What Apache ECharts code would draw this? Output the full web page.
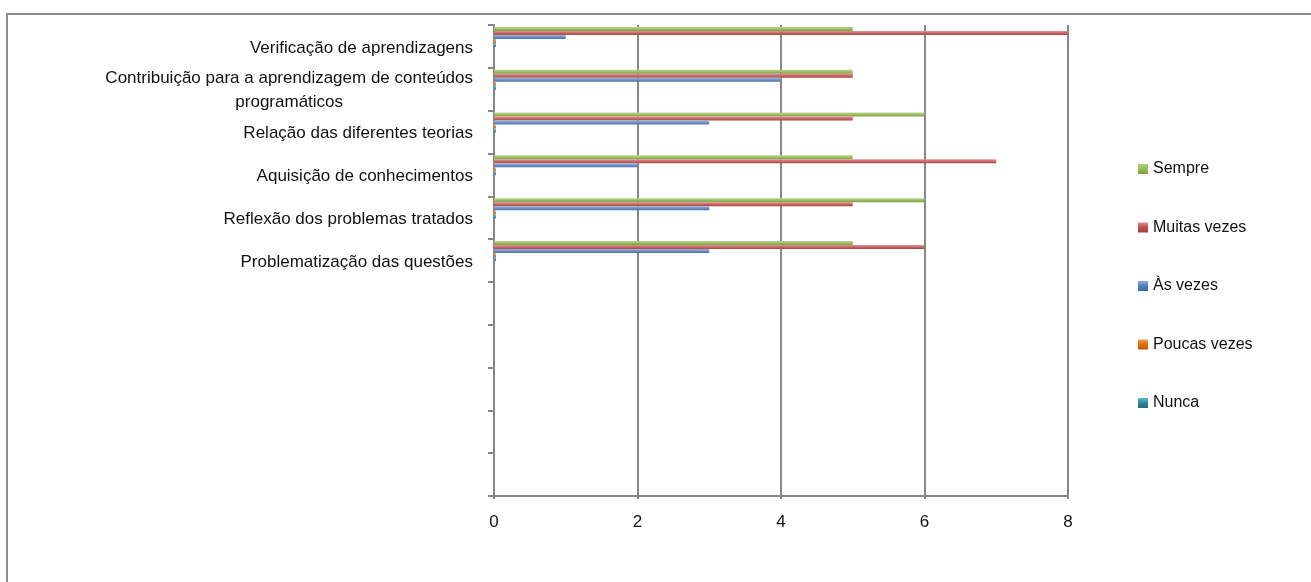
<!DOCTYPE html>
<html>
<head>
<meta charset="utf-8">
<script src="https://cdn.jsdelivr.net/npm/echarts@6/dist/echarts.min.js"></script>
<style>
  html, body { margin: 0; padding: 0; background: #ffffff; }
  #chart { width: 1311px; height: 582px; }
</style>
</head>
<body>
<div id="chart"></div>
<script>
// Categories, top to bottom; the trailing blanks are unused slots on the axis.
const categories = [
  'Verificação de aprendizagens',
  'Contribuição para a aprendizagem de conteúdos programáticos',
  'Relação das diferentes teorias',
  'Aquisição de conhecimentos',
  'Reflexão dos problemas tratados',
  'Problematização das questões',
  '', '', '', '', ''
];

// Answer counts per category
const sempre      = [5, 5, 6, 5, 6, 5];
const muitasVezes = [8, 5, 5, 7, 5, 6];
const asVezes     = [1, 4, 3, 2, 3, 3];
const poucasVezes = [0, 0, 0, 0, 0, 0];
const nunca       = [0, 0, 0, 0, 0, 0];

const seriesNames = ['Sempre', 'Muitas vezes', 'Às vezes', 'Poucas vezes', 'Nunca'];
const xTicks = [0, 2, 4, 6, 8];

const FONT = '"Liberation Sans Narrow", "Liberation Sans", Arial, sans-serif';
const GRID_GREY = '#868686';
const TEXT = '#111111';

function grad(c1, c2, c3) {
  return new echarts.graphic.LinearGradient(0, 0, 0, 1, [
    { offset: 0, color: c1 },
    { offset: 0.5, color: c2 },
    { offset: 1, color: c3 }
  ]);
}

const palette = [
  grad('#bcd290', '#9fbd62', '#7e9c45'),   // Sempre
  grad('#dc9896', '#c86865', '#aa4542'),   // Muitas vezes
  grad('#9fb8dc', '#6f91c7', '#4a71a8'),   // Às vezes
  grad('#f8b27a', '#ee8a3a', '#d0690f'),   // Poucas vezes
  grad('#7ccadd', '#45a6bf', '#2a8198')    // Nunca
];
const legendColors = [
  grad('#b3cb86', '#9bbb59', '#7f9e40'),
  grad('#d88b89', '#c0504d', '#a03c39'),
  grad('#8fabd6', '#4f81bd', '#3d6aa0'),
  grad('#f59c55', '#e46c0a', '#c05a08'),
  grad('#5dbad2', '#31859c', '#256a7d')
];

// Wrap long category names into lines of at most maxChars characters
function wrapLabel(text, maxChars) {
  const words = text.split(' ');
  const lines = [];
  let cur = '';
  words.forEach(w => {
    const next = cur ? cur + ' ' + w : w;
    if (next.length > maxChars && cur) { lines.push(cur); cur = w; }
    else cur = next;
  });
  if (cur) lines.push(cur);
  return lines;
}

const values = [sempre, muitasVezes, asVezes, poucasVezes, nunca];

const series = seriesNames.map((name, i) => ({
  name: name,
  type: 'bar',
  data: values[i],
  barWidth: 4,
  barGap: '0%',
  barMinHeight: i >= 3 ? 2 : 0,
  itemStyle: { color: palette[i] },
  emphasis: { disabled: true },
  z: 3
}));

// Empty slot that keeps each bar group in the upper part of its band
series.push({
  name: 'reserva',
  type: 'bar',
  data: [],
  barWidth: 19,
  barGap: '0%',
  silent: true
});

const chart = echarts.init(document.getElementById('chart'), null, { renderer: 'canvas' });

chart.setOption({
  animation: false,
  backgroundColor: '#ffffff',
  graphic: [{
    type: 'rect',
    shape: { x: 7, y: 14, width: 1400, height: 700 },
    style: { fill: 'none', stroke: '#8c8c8c', lineWidth: 2 },
    silent: true,
    z: -1
  }],
  grid: { left: 494, right: 243, top: 25, bottom: 86, containLabel: false },
  legend: {
    orient: 'vertical',
    left: 1138,
    top: 159,
    padding: 0,
    itemWidth: 10,
    itemHeight: 10,
    itemGap: 38.5,
    icon: 'rect',
    data: seriesNames.map((n, i) => ({ name: n, itemStyle: { color: legendColors[i] } })),
    textStyle: { fontFamily: FONT, fontSize: 16, color: TEXT, lineHeight: 20 },
    selectedMode: false
  },
  xAxis: {
    type: 'value',
    min: 0,
    max: 8,
    interval: 2,
    axisLine: { show: true, lineStyle: { color: GRID_GREY, width: 2 } },
    axisTick: { show: true, length: 3, lineStyle: { color: GRID_GREY, width: 2 } },
    splitLine: { show: true, lineStyle: { color: GRID_GREY, width: 2 } },
    axisLabel: {
      fontFamily: FONT, fontSize: 17, color: TEXT, margin: 18,
      formatter: v => (xTicks.indexOf(v) >= 0 ? String(v) : '')
    }
  },
  yAxis: {
    type: 'category',
    inverse: true,
    data: categories,
    axisLine: { show: true, lineStyle: { color: GRID_GREY, width: 2 } },
    axisTick: { show: true, length: 6, alignWithLabel: false, interval: 0, lineStyle: { color: GRID_GREY, width: 2 } },
    splitLine: { show: false },
    axisLabel: {
      interval: 0,
      margin: 21,
      fontFamily: FONT,
      fontSize: 17,
      color: TEXT,
      lineHeight: 24,
      formatter: function (name) {
        if (!name) return '';
        return wrapLabel(name, 46).map(l => '{c|' + l + '}').join('\n');
      },
      rich: {
        c: { align: 'center', fontFamily: FONT, fontSize: 17, color: TEXT, lineHeight: 24, padding: [3, 0, 0, 0] }
      }
    }
  },
  series: series
});
</script>
</body>
</html>
